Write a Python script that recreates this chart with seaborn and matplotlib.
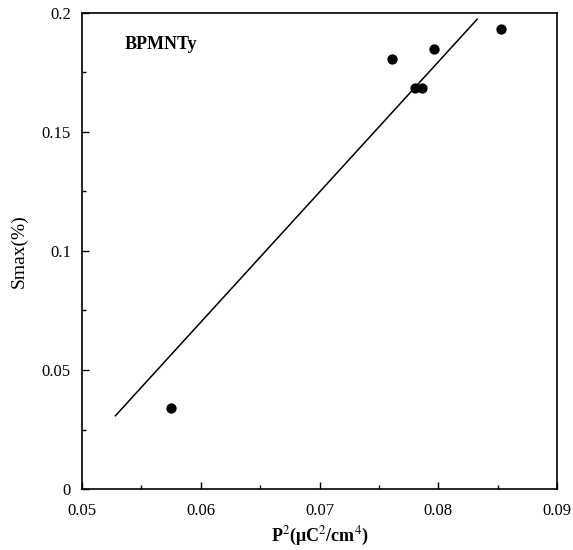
import matplotlib
matplotlib.use("Agg")
import matplotlib.pyplot as plt
import seaborn as sns
import pandas as pd
from matplotlib.ticker import MultipleLocator, FixedLocator

sns.set_theme(style="white")
plt.rcParams['font.family'] = ['Liberation Serif', 'DejaVu Serif']
plt.rcParams['mathtext.fontset'] = 'stix'

# data
p2 = [0.0575, 0.0761, 0.0780, 0.0786, 0.0796, 0.0853]
smax = [0.034, 0.1807, 0.1685, 0.1685, 0.1849, 0.1933]
fit_x = [0.0528, 0.0833]
fit_y = [0.0307, 0.1975]
x_ticks = [0.05, 0.06, 0.07, 0.08, 0.09]
x_labels = ["0.05", "0.06", "0.07", "0.08", "0.09"]
y_ticks = [0, 0.05, 0.1, 0.15, 0.2]
y_labels = ["0", "0.05", "0.1", "0.15", "0.2"]

df = pd.DataFrame({"x": p2, "y": smax})
fit = pd.DataFrame({"x": fit_x, "y": fit_y})

fig = plt.figure(figsize=(5.73, 5.5), dpi=100)
ax = fig.add_axes([0.1431, 0.1109, 0.8290, 0.8655])

sns.lineplot(data=fit, x="x", y="y", ax=ax, color="black", linewidth=1.1)
sns.scatterplot(data=df, x="x", y="y", ax=ax, color="black", s=55, edgecolor="black", linewidth=0, zorder=3)

ax.set_xlim(0.05, 0.09)
ax.set_ylim(0, 0.2)
ax.xaxis.set_major_locator(FixedLocator(x_ticks))
ax.set_xticklabels(x_labels)
ax.yaxis.set_major_locator(FixedLocator(y_ticks))
ax.set_yticklabels(y_labels)
ax.xaxis.set_minor_locator(MultipleLocator(0.005))
ax.yaxis.set_minor_locator(MultipleLocator(0.025))
ax.tick_params(which="both", direction="in", color="black", labelsize=12, labelcolor="black")
ax.tick_params(which="major", length=5, width=1)
ax.tick_params(which="minor", length=3, width=1)
ax.tick_params(axis="x", which="both", bottom=True, top=False, pad=10)
ax.tick_params(axis="y", which="both", left=True, right=False, pad=8)
for sp in ax.spines.values():
    sp.set_color("black")
    sp.set_linewidth(1.2)

ax.set_xlabel(r"P$^{2}$(μC$^{2}$/cm$^{4}$)", fontsize=13, fontweight="bold", color="black", labelpad=4)
ax.set_ylabel("Smax(%)", fontsize=14, color="black", labelpad=10)
ax.text(0.0536, 0.1866, "BPMNTy", fontsize=13, fontweight="bold", va="center", ha="left", color="black")

fig.savefig("out.png", dpi=100)
